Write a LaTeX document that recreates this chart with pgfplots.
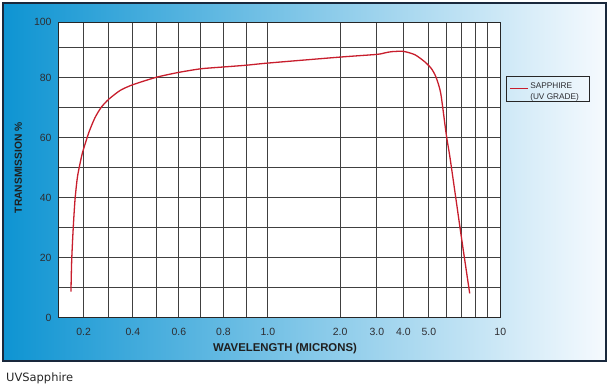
\documentclass[border=0pt]{standalone}
\usepackage{fontspec}
\setmainfont{Liberation Sans}
\newfontfamily\dejavu{DejaVu Sans}
\usepackage{pgfplots}
\pgfplotsset{compat=1.18}
\definecolor{panelL}{RGB}{14,148,210}
\definecolor{panelM}{RGB}{128,192,233}
\definecolor{panelR}{RGB}{246,250,254}
\definecolor{panelB}{RGB}{25,40,60}
\definecolor{curve}{RGB}{200,30,45}
\definecolor{txt}{RGB}{45,45,50}
\begin{document}
\begin{tikzpicture}
\path (0bp,0bp) rectangle (612bp,390bp);
\shade[left color=panelL, middle color=panelM, right color=panelR] (3bp,29bp) rectangle (606bp,387bp);
\draw[panelB, line width=1.5bp] (3bp,29bp) rectangle (606bp,387bp);
\begin{axis}[
  at={(58.3bp,72.3bp)}, anchor=south west,
  scale only axis, width=442bp, height=295.4bp,
  xmin=0.1, xmax=10, ymin=0, ymax=98.5,
  x coord trafo/.code={\pgfmathparse{253*min(max(#1-0.1,0),0.1)+250*min(max(#1-0.2,0),0.1)+243*min(max(#1-0.3,0),0.1)+238*min(max(#1-0.4,0),0.1)+221*min(max(#1-0.5,0),0.1)+221*min(max(#1-0.6,0),0.1)+226*min(max(#1-0.7,0),0.1)+232*min(max(#1-0.8,0),0.1)+211*min(max(#1-0.9,0),0.1)+72.3*min(max(#1-1,0),1)+36.8*min(max(#1-2,0),1)+26.5*min(max(#1-3,0),1)+25.4*min(max(#1-4,0),1)+17.5*min(max(#1-5,0),1)+15.6*min(max(#1-6,0),1)+13.7*min(max(#1-7,0),1)+12.2*min(max(#1-8,0),1)+12.5*min(max(#1-9,0),1)}},
  xtick={0.2,0.3,0.4,0.5,0.6,0.7,0.8,0.9,1,2,3,4,5,6,7,8,9,10},
  xticklabels={0.2,,0.4,,0.6,,0.8,,1.0,2.0,3.0,4.0,5.0,,,,,10},
  ytick={0,10,20,30,40,50,60,70,80,90,98.5},
  yticklabels={0,,20,,40,,60,,80,,100},
  major tick length=0pt,
  grid=major,
  major grid style={line width=1bp, color=black!75},
  axis line style={line width=1.5bp, color=black!85},
  axis background/.style={fill=white},
  tick label style={font=\fontsize{10.5}{12}\selectfont, color=txt},
  xticklabel style={anchor=north, inner sep=0pt, yshift=-10bp},
  yticklabel style={anchor=east, inner sep=0pt, xshift=-6.6bp},
  xlabel={WAVELENGTH (MICRONS)},
  ylabel={TRANSMISSION \%},
  xlabel style={at={(axis description cs:0.513,0)}, anchor=center, yshift=-30.6bp, font=\fontsize{11.4}{13}\selectfont\bfseries, color=black!88},
  ylabel style={at={(axis description cs:0,0.507)}, anchor=center, rotate=0, yshift=39.9bp, font=\fontsize{10.3}{12}\selectfont\bfseries, color=black!88},
  legend style={at={(axis description cs:1.012,0.819)}, anchor=north west, draw=black!85, line width=1.3bp, fill=none, inner xsep=3bp, inner ysep=2.5bp, font=\fontsize{8.3}{11}\selectfont, text=txt},
  legend image code/.code={\path[draw=none,fill=none] (0bp,-11bp) rectangle (18bp,0bp); \draw[#1, line width=1bp] (0bp,0bp) -- (18bp,0bp);},
]
\addplot[color=curve, line width=1.3bp, smooth, tension=0.4] coordinates {
(0.150,8.7) (0.153,19.3) (0.159,29.9) (0.166,39.3) (0.176,47.1) (0.192,53.8) (0.200,56.3) (0.222,62.0) (0.245,66.6) (0.270,70.1) (0.300,72.8) (0.348,75.8) (0.400,77.7) (0.500,80.2) (0.600,81.8) (0.700,83.0) (0.800,83.6) (0.900,84.2) (1.000,84.9) (2.000,86.9) (3.000,87.8) (3.300,88.3) (3.550,88.7) (4.000,88.8) (4.450,87.7) (4.830,85.4) (5.130,83.2) (5.400,80.4) (5.680,74.9) (6.000,61.0) (6.260,52.6) (7.000,25.7) (7.570,8.1)
};
\addlegendentry{\begin{tabular}{@{}p{54bp}@{}}SAPPHIRE\\(UV GRADE)\end{tabular}}
\end{axis}
\node[anchor=west, inner sep=0pt, font=\dejavu\fontsize{11.5}{13}\selectfont, text=black!85] at (6bp,12bp) {UVSapphire};
\end{tikzpicture}
\end{document}
